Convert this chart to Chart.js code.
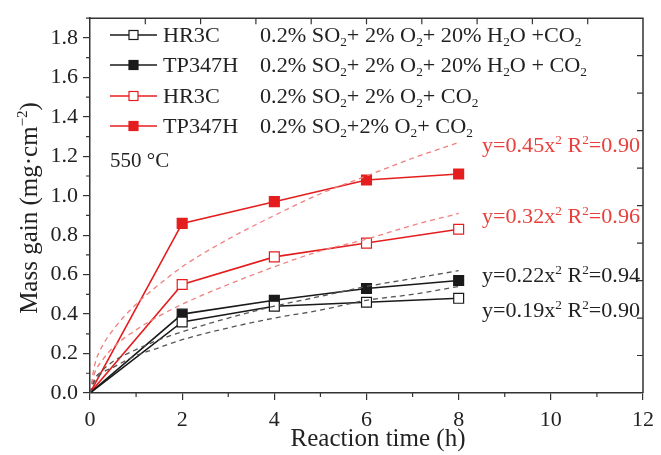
<!DOCTYPE html>
<html>
<head>
<meta charset="utf-8">
<script src="https://cdn.jsdelivr.net/npm/chart.js@4/dist/chart.umd.min.js"></script>
<style>
  body { margin: 0; background: #fff; }
  #wrap { width: 661px; height: 455px; }
</style>
</head>
<body>
<div id="wrap"><canvas id="c" width="661" height="455"></canvas></div>
<script>
// measured points (reaction time in h, mass gain in mg/cm2)
const times = [0, 2, 4, 6, 8];
const hr3cWet = [0, 0.36, 0.44, 0.46, 0.48];
const tp347hWet = [0, 0.40, 0.47, 0.53, 0.57];
const hr3cDry = [0, 0.55, 0.69, 0.76, 0.83];
const tp347hDry = [0, 0.86, 0.97, 1.08, 1.11];

// fitted curves
const fitTimes = [0, 0.1, 0.25, 0.5, 1, 1.5, 2, 3, 4, 5, 6, 7, 8];
const fitTp347hDry = [0, 0.14, 0.23, 0.32, 0.45, 0.55, 0.64, 0.78, 0.90, 1.01, 1.10, 1.19, 1.27];
const fitHr3cDry = [0, 0.10, 0.16, 0.23, 0.32, 0.39, 0.45, 0.55, 0.64, 0.72, 0.78, 0.85, 0.91];
const fitTp347hWet = [0, 0.07, 0.11, 0.16, 0.22, 0.27, 0.31, 0.38, 0.44, 0.49, 0.54, 0.58, 0.62];
const fitHr3cWet = [0, 0.06, 0.10, 0.13, 0.19, 0.23, 0.27, 0.33, 0.38, 0.42, 0.47, 0.50, 0.54];

const fitLabels = [
  { text: '0.45', r2: '0.90', red: true },
  { text: '0.32', r2: '0.96', red: true },
  { text: '0.22', r2: '0.94', red: false },
  { text: '0.19', r2: '0.90', red: false }
];

const RED = '#e41e1e';
const RED_TEXT = '#e8403c';
const BLACK = '#1a1a1a';
const FONT = '"Liberation Serif", "Times New Roman", serif';

const toXY = (xs, ys) => xs.map((x, i) => ({ x: x, y: ys[i] }));

function fitSet(ys, color) {
  return {
    data: toXY(fitTimes, ys),
    borderColor: color,
    borderWidth: 1.3,
    borderDash: [5, 4],
    pointRadius: 0,
    cubicInterpolationMode: 'monotone',
    fill: false
  };
}

function dataSet(ys, color, filled) {
  return {
    data: toXY(times, ys),
    borderColor: color,
    borderWidth: 1.6,
    pointStyle: 'rect',
    pointRadius: [0, 7, 7, 7, 7],
    pointBorderWidth: 1.2,
    pointBorderColor: color,
    pointBackgroundColor: filled ? color : '#fff',
    fill: false
  };
}

// text with sub/superscripts, optional horizontal stretch
function drawRich(ctx, x, y, parts, size, color, sx) {
  ctx.save();
  ctx.translate(x, y);
  ctx.scale(sx || 1, 1);
  ctx.fillStyle = color;
  ctx.textBaseline = 'alphabetic';
  ctx.textAlign = 'left';
  let cx = 0;
  parts.forEach(p => {
    const t = Array.isArray(p) ? p[0] : p;
    const mode = Array.isArray(p) ? p[1] : '';
    const fs = mode ? size * 0.6 : size;
    ctx.font = fs + 'px ' + FONT;
    const dy = mode === 'sub' ? size * 0.22 : mode === 'sup' ? -size * 0.4 : 0;
    ctx.fillText(t, cx, dy);
    cx += ctx.measureText(t).width;
  });
  ctx.restore();
}

function richWidth(ctx, parts, size) {
  let w = 0;
  parts.forEach(p => {
    const t = Array.isArray(p) ? p[0] : p;
    const mode = Array.isArray(p) ? p[1] : '';
    ctx.font = (mode ? size * 0.6 : size) + 'px ' + FONT;
    w += ctx.measureText(t).width;
  });
  return w;
}

const legendRows = [
  { name: 'HR3C', color: BLACK, filled: false,
    cond: ['0.2% SO', ['2', 'sub'], '+ 2% O', ['2', 'sub'], '+ 20% H', ['2', 'sub'], 'O +CO', ['2', 'sub']] },
  { name: 'TP347H', color: BLACK, filled: true,
    cond: ['0.2% SO', ['2', 'sub'], '+ 2% O', ['2', 'sub'], '+ 20% H', ['2', 'sub'], 'O + CO', ['2', 'sub']] },
  { name: 'HR3C', color: RED, filled: false,
    cond: ['0.2% SO', ['2', 'sub'], '+ 2% O', ['2', 'sub'], '+ CO', ['2', 'sub']] },
  { name: 'TP347H', color: RED, filled: true,
    cond: ['0.2% SO', ['2', 'sub'], '+2% O', ['2', 'sub'], '+ CO', ['2', 'sub']] }
];

const framePlugin = {
  id: 'frame',
  afterDraw(chart) {
    const ctx = chart.ctx;
    const a = chart.chartArea;
    const xs = chart.scales.x, ys = chart.scales.y;
    ctx.save();
    ctx.strokeStyle = '#333';
    ctx.lineWidth = 1.5;
    ctx.beginPath();
    ctx.moveTo(a.left, a.top); ctx.lineTo(a.right, a.top); ctx.lineTo(a.right, a.bottom);
    ctx.stroke();

    ctx.lineWidth = 1.2;
    ctx.beginPath();
    // minor ticks, outward
    for (let v = 0.1; v < 1.9; v += 0.2) {
      const py = ys.getPixelForValue(v);
      ctx.moveTo(a.left - 4, py); ctx.lineTo(a.left, py);
    }
    for (let v = 1; v < 12; v += 2) {
      const px = xs.getPixelForValue(v);
      ctx.moveTo(px, a.bottom); ctx.lineTo(px, a.bottom + 4);
    }
    // top and right axes: ten divisions, inward
    for (let i = 1; i < 10; i++) {
      const px = xs.getPixelForValue(i * 1.2);
      ctx.moveTo(px, a.top); ctx.lineTo(px, a.top + 6);
      const py = ys.getPixelForValue(i * 0.19);
      ctx.moveTo(a.right, py); ctx.lineTo(a.right - 6, py);
    }
    ctx.stroke();

    // legend
    const rowBase = [42, 72, 103, 133];
    const refW = richWidth(ctx, legendRows[1].cond, 20);
    const sx = 327 / refW;
    legendRows.forEach((r, i) => {
      const yb = rowBase[i];
      const yc = yb - 7;
      ctx.strokeStyle = r.color;
      ctx.lineWidth = 1.6;
      ctx.beginPath(); ctx.moveTo(110, yc); ctx.lineTo(157, yc); ctx.stroke();
      ctx.fillStyle = r.filled ? r.color : '#fff';
      ctx.lineWidth = 1.2;
      ctx.fillRect(129, yc - 4.5, 9, 9);
      ctx.strokeRect(129, yc - 4.5, 9, 9);
      drawRich(ctx, 163, yb, [r.name], 20, '#222', sx);
      drawRich(ctx, 260, yb, r.cond, 20, '#222', sx);
    });
    drawRich(ctx, 110, 167, ['550 \u00B0C'], 20, '#222', 1.05);

    // fit equations
    const eqBase = [152, 223, 282, 317];
    fitLabels.forEach((f, i) => {
      const parts = ['y=' + f.text + 'x', ['2', 'sup'], ' R', ['2', 'sup'], '=' + f.r2];
      const w = richWidth(ctx, parts, 20);
      drawRich(ctx, 482, eqBase[i], parts, 20, f.red ? RED_TEXT : '#222', 158 / w);
    });

    // axis titles
    const xt = ['Reaction time (h)'];
    const xw = richWidth(ctx, xt, 25);
    drawRich(ctx, 378 - xw / 2, 446, xt, 25, '#222', 1);

    const yt = ['Mass gain (mg\u00B7cm', ['\u22122', 'sup'], ')'];
    const yw = richWidth(ctx, yt, 25);
    ctx.save();
    ctx.translate(37, 208);
    ctx.rotate(-Math.PI / 2);
    drawRich(ctx, -yw / 2, 0, yt, 25, '#222', 1);
    ctx.restore();
    ctx.restore();
  }
};

new Chart(document.getElementById('c'), {
  type: 'line',
  plugins: [framePlugin],
  data: {
    datasets: [
      fitSet(fitHr3cWet, '#555'),
      fitSet(fitTp347hWet, '#555'),
      fitSet(fitHr3cDry, '#f07f7f'),
      fitSet(fitTp347hDry, '#f07f7f'),
      dataSet(hr3cWet, BLACK, false),
      dataSet(tp347hWet, BLACK, true),
      dataSet(hr3cDry, RED, false),
      dataSet(tp347hDry, RED, true)
    ]
  },
  options: {
    responsive: false,
    animation: false,
    layout: { padding: { top: 15, right: 9, left: 0, bottom: 0 } },
    plugins: { legend: { display: false }, tooltip: { enabled: false } },
    scales: {
      x: {
        type: 'linear',
        min: 0,
        max: 12,
        ticks: { stepSize: 2, color: '#222', padding: 7, font: { family: FONT, size: 22 } },
        grid: { display: true, drawOnChartArea: false, drawTicks: true, tickLength: 7, color: '#333', lineWidth: 1.2 },
        border: { display: true, color: '#333', width: 1.5 },
        afterFit(s) { s.height = 62; }
      },
      y: {
        min: 0,
        max: 1.9,
        ticks: {
          stepSize: 0.2,
          includeBounds: false,
          color: '#222',
          padding: 5,
          font: { family: FONT, size: 22 },
          callback: v => v.toFixed(1)
        },
        grid: { display: true, drawOnChartArea: false, drawTicks: true, tickLength: 7, color: '#333', lineWidth: 1.2 },
        border: { display: true, color: '#333', width: 1.5 },
        afterFit(s) { s.width = 90; }
      }
    }
  }
});
</script>
</body>
</html>
